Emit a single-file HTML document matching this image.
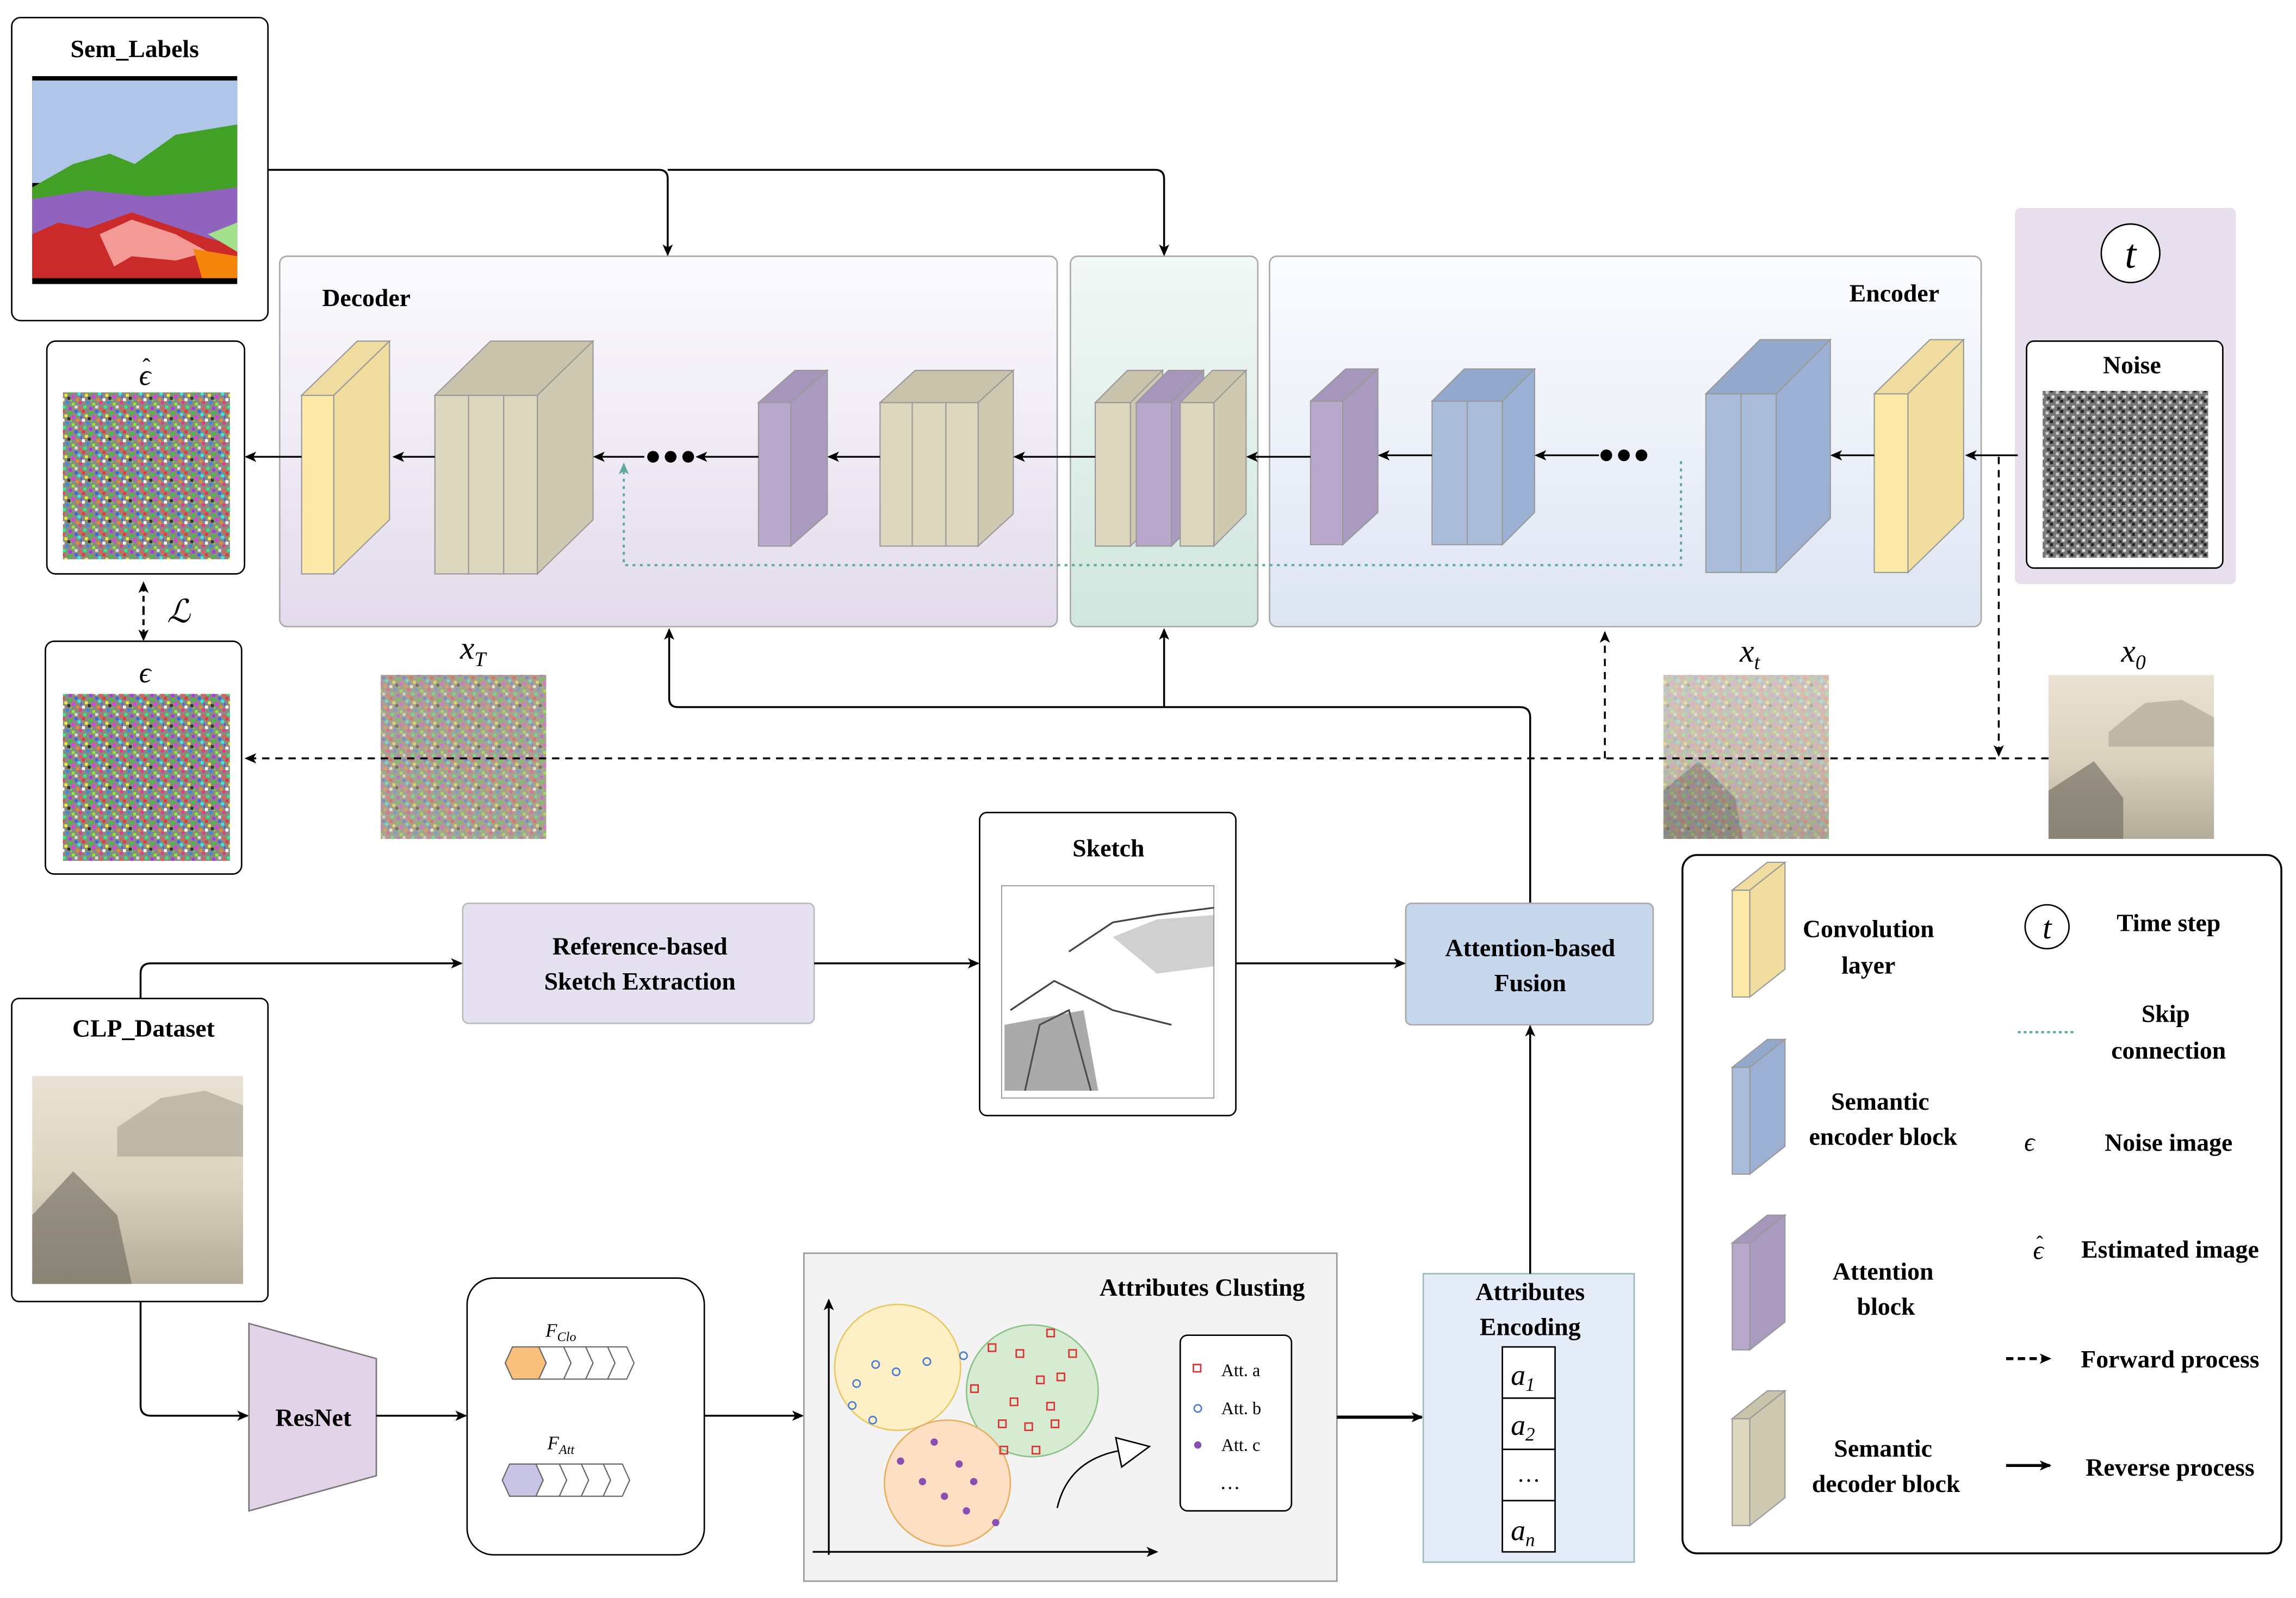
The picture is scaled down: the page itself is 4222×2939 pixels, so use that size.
<!DOCTYPE html>
<html><head><meta charset="utf-8"><style>
html,body{margin:0;padding:0;background:#fff;}
svg{display:block;}
text{font-family:"Liberation Serif",serif;font-weight:bold;fill:#000;}
.it{font-style:italic;font-weight:normal;}
</style></head><body>
<svg width="4222" height="2939" viewBox="0 0 1568 1091.5" xmlns="http://www.w3.org/2000/svg">
<defs>
<marker id="ah" markerWidth="8" markerHeight="8" refX="7" refY="4" orient="auto" markerUnits="userSpaceOnUse"><path d="M0,0.5 L8,4 L0,7.5 L2,4 z" fill="#000"/></marker>
<marker id="aht" markerWidth="8" markerHeight="8" refX="7" refY="4" orient="auto" markerUnits="userSpaceOnUse"><path d="M0,0.5 L8,4 L0,7.5 L2,4 z" fill="#5fa9a0"/></marker>
<pattern id="noise" width="14" height="14" patternUnits="userSpaceOnUse">
<rect width="14" height="14" fill="#8a8a80"/>
<rect x="0" y="0" width="2" height="2" fill="#e33"/><rect x="5" y="1" width="2" height="2" fill="#3c3"/><rect x="9" y="0" width="2" height="2" fill="#36e"/>
<rect x="2" y="3" width="2" height="2" fill="#ee3"/><rect x="7" y="4" width="2" height="2" fill="#e3e"/><rect x="11" y="2" width="2" height="2" fill="#3ee"/>
<rect x="0" y="6" width="2" height="2" fill="#fff"/><rect x="4" y="5" width="2" height="2" fill="#333"/><rect x="10" y="6" width="2" height="2" fill="#e83"/>
<rect x="3" y="8" width="2" height="2" fill="#38e"/><rect x="7" y="9" width="2" height="2" fill="#8e3"/><rect x="12" y="8" width="2" height="2" fill="#e38"/>
<rect x="1" y="11" width="2" height="2" fill="#3e8"/><rect x="5" y="12" width="2" height="2" fill="#a3e"/><rect x="9" y="11" width="2" height="2" fill="#ddd"/>
<rect x="12" y="12" width="2" height="2" fill="#e55"/><rect x="6" y="7" width="1" height="1" fill="#5e5"/><rect x="13" y="4" width="1" height="2" fill="#55e"/>
</pattern>
<pattern id="gnoise" width="7" height="7" patternUnits="userSpaceOnUse">
<rect width="7" height="7" fill="#777"/><rect x="0" y="0" width="2" height="2" fill="#222"/><rect x="4" y="1" width="2" height="2" fill="#ccc"/><rect x="1" y="4" width="2" height="2" fill="#ddd"/><rect x="5" y="5" width="2" height="2" fill="#333"/>
</pattern>
<linearGradient id="gdec" x1="0" y1="0" x2="0" y2="1"><stop offset="0" stop-color="#fbfbfd"/><stop offset="1" stop-color="#e3dbec"/></linearGradient>
<linearGradient id="gmid" x1="0" y1="0" x2="0" y2="1"><stop offset="0" stop-color="#f2f8f6"/><stop offset="1" stop-color="#cfe6dd"/></linearGradient>
<linearGradient id="genc" x1="0" y1="0" x2="0" y2="1"><stop offset="0" stop-color="#fbfcfe"/><stop offset="1" stop-color="#dde5f3"/></linearGradient>
<linearGradient id="gpaint" x1="0" y1="0" x2="0" y2="1"><stop offset="0" stop-color="#e9e1d3"/><stop offset="0.5" stop-color="#ddd3c0"/><stop offset="1" stop-color="#b4ab98"/></linearGradient>
</defs>

<rect x="8" y="12" width="175" height="207" rx="6" fill="#fff" stroke="#000" stroke-width="1"/>
<text x="92" y="39" font-size="17" text-anchor="middle">Sem_Labels</text>
<rect x="22" y="52" width="140" height="142" fill="#000"/>
<rect x="22" y="55" width="140" height="70" fill="#b0c6e8"/>
<path d="M22,128 L50,112 L75,105 L92,112 L120,92 L162,85 L162,138 L22,140 z" fill="#43a027"/>
<path d="M22,136 L60,130 L100,134 L130,132 L162,128 L162,170 L22,175 z" fill="#9064be"/>
<path d="M22,160 L40,152 L60,156 L90,145 L110,152 L140,162 L162,168 L162,190 L22,190 z" fill="#cb2a2a"/>
<path d="M68,160 L90,150 L120,160 L142,172 L120,178 L90,175 L78,182 z" fill="#f39a96"/>
<path d="M132,170 L162,175 L162,190 L138,190 z" fill="#f3860a"/>
<path d="M142,160 L162,152 L162,172 z" fill="#a2e08b"/>

<rect x="32" y="233" width="135" height="159" rx="6" fill="#fff" stroke="#000"/>
<text x="99" y="263" font-size="20" text-anchor="middle" class="it">ϵ</text>
<text x="100" y="256" font-size="16" text-anchor="middle" style="font-weight:normal">ˆ</text>
<rect x="43" y="268" width="114" height="114" fill="url(#noise)"/>
<line x1="98" y1="418" x2="98" y2="398" stroke="#000" stroke-width="1.5" stroke-dasharray="4,3" marker-end="url(#ah)"/>
<line x1="98" y1="416" x2="98" y2="437" stroke="#000" stroke-width="1.5" stroke-dasharray="4,3" marker-end="url(#ah)"/>
<text x="122" y="425" font-size="22" text-anchor="middle" class="it" style="font-family:'DejaVu Serif',serif">ℒ</text>
<rect x="31" y="438" width="134" height="159" rx="6" fill="#fff" stroke="#000"/>
<text x="99" y="466" font-size="20" text-anchor="middle" class="it">ϵ</text>
<rect x="43" y="474" width="114" height="114" fill="url(#noise)"/>

<rect x="191" y="175" width="531" height="253" rx="5" fill="url(#gdec)" stroke="#aaa"/>
<text x="220" y="209" font-size="17">Decoder</text>
<rect x="731" y="175" width="128" height="253" rx="5" fill="url(#gmid)" stroke="#aaa"/>
<rect x="867" y="175" width="486" height="253" rx="5" fill="url(#genc)" stroke="#aaa"/>
<text x="1263" y="206" font-size="17">Encoder</text>
<rect x="1376" y="142" width="151" height="257" rx="4" fill="#e7deee"/>
<circle cx="1455" cy="173" r="20" fill="#fff" stroke="#000"/>
<text x="1455" y="183" font-size="28" text-anchor="middle" class="it">t</text>
<rect x="1384" y="233" width="134" height="155" rx="5" fill="#fff" stroke="#000"/>
<text x="1456" y="255" font-size="17" text-anchor="middle">Noise</text>
<rect x="1395" y="267" width="113" height="114" fill="url(#gnoise)"/>

<g stroke="#999" stroke-width="0.8">
<rect x="206" y="270" width="22" height="122" fill="#fde9a8"/>
<path d="M206,270 L244,233 L266,233 L228,270z" fill="#f0dca0"/>
<path d="M228,270 L266,233 L266,355 L228,392z" fill="#f1dda0"/>
<rect x="297" y="270" width="23" height="122" fill="#dcd7be"/><rect x="320" y="270" width="24" height="122" fill="#dcd7be"/><rect x="344" y="270" width="23" height="122" fill="#dcd7be"/>
<path d="M297,270 L335,233 L405,233 L367,270z" fill="#c8c3aa"/>
<path d="M367,270 L405,233 L405,355 L367,392z" fill="#cfc9b2"/>
<rect x="518" y="275" width="22" height="98" fill="#b8a8cb"/>
<path d="M518,275 L543,253 L565,253 L540,275z" fill="#a696bb"/>
<path d="M540,275 L565,253 L565,351 L540,373z" fill="#aa9abf"/>
<rect x="601" y="275" width="22" height="98" fill="#dcd7be"/><rect x="623" y="275" width="23" height="98" fill="#dcd7be"/><rect x="646" y="275" width="22" height="98" fill="#dcd7be"/>
<path d="M601,275 L625,253 L692,253 L668,275z" fill="#c8c3aa"/>
<path d="M668,275 L692,253 L692,351 L668,373z" fill="#cfc9b2"/>
<path d="M748,275 L770,253 L794,253 L772,275z" fill="#c8c3aa"/><path d="M772,275 L794,253 L794,351 L772,373z" fill="#cfc9b2"/><rect x="748" y="275" width="24" height="98" fill="#dcd7be"/>
<path d="M776,275 L798,253 L822,253 L800,275z" fill="#a696bb"/><path d="M800,275 L822,253 L822,351 L800,373z" fill="#aa9abf"/><rect x="776" y="275" width="24" height="98" fill="#b8a8cb"/>
<path d="M806,275 L828,253 L851,253 L829,275z" fill="#c8c3aa"/><path d="M829,275 L851,253 L851,351 L829,373z" fill="#cfc9b2"/><rect x="806" y="275" width="23" height="98" fill="#dcd7be"/>
<rect x="895" y="274" width="22" height="98" fill="#b8a8cb"/>
<path d="M895,274 L919,252 L941,252 L917,274z" fill="#a696bb"/>
<path d="M917,274 L941,252 L941,350 L917,372z" fill="#aa9abf"/>
<rect x="978" y="274" width="24" height="98" fill="#a9bddb"/><rect x="1002" y="274" width="24" height="98" fill="#a9bddb"/>
<path d="M978,274 L1000,252 L1048,252 L1026,274z" fill="#93a9cc"/>
<path d="M1026,274 L1048,252 L1048,350 L1026,372z" fill="#9bb0d2"/>
<rect x="1165" y="269" width="24" height="122" fill="#a9bddb"/><rect x="1189" y="269" width="24" height="122" fill="#a9bddb"/>
<path d="M1165,269 L1202,232 L1250,232 L1213,269z" fill="#93a9cc"/>
<path d="M1213,269 L1250,232 L1250,354 L1213,391z" fill="#9bb0d2"/>
<rect x="1280" y="269" width="23" height="122" fill="#fde9a8"/>
<path d="M1280,269 L1318,232 L1341,232 L1303,269z" fill="#f0dca0"/>
<path d="M1303,269 L1341,232 L1341,354 L1303,391z" fill="#f1dda0"/>
</g>
<circle cx="446" cy="312" r="4"/><circle cx="458" cy="312" r="4"/><circle cx="470" cy="312" r="4"/>
<circle cx="1097" cy="311" r="4"/><circle cx="1109" cy="311" r="4"/><circle cx="1121" cy="311" r="4"/>
<g stroke="#000" stroke-width="1.2" fill="none" marker-end="url(#ah)">
<line x1="1378" y1="311" x2="1343" y2="311"/>
<line x1="1280" y1="311" x2="1251" y2="311"/>
<line x1="1092" y1="311" x2="1049" y2="311"/>
<line x1="978" y1="311" x2="942" y2="311"/>
<line x1="895" y1="312" x2="852" y2="312"/>
<line x1="748" y1="312" x2="693" y2="312"/>
<line x1="601" y1="312" x2="566" y2="312"/>
<line x1="518" y1="312" x2="476" y2="312"/>
<line x1="440" y1="312" x2="406" y2="312"/>
<line x1="297" y1="312" x2="269" y2="312"/>
<line x1="206" y1="312" x2="168" y2="312"/>
</g>
<path d="M1148,315 L1148,386 L426,386 L426,317" fill="none" stroke="#5fa9a0" stroke-width="1.5" stroke-dasharray="2,3" marker-end="url(#aht)"/>
<path d="M183,116 L450,116 Q456,116 456,122 L456,174" fill="none" stroke="#000" stroke-width="1.3" marker-end="url(#ah)"/>
<path d="M456,116 L789,116 Q795,116 795,122 L795,174" fill="none" stroke="#000" stroke-width="1.3" marker-end="url(#ah)"/>
<path d="M1045,617 L1045,490 Q1045,483 1038,483 L463,483 Q457,483 457,477 L457,430" fill="none" stroke="#000" stroke-width="1.3" marker-end="url(#ah)"/>
<path d="M795,483 L795,430" fill="none" stroke="#000" stroke-width="1.3" marker-end="url(#ah)"/>
<text x="323" y="450" font-size="22" text-anchor="middle" class="it">x<tspan font-size="14" dy="5">T</tspan></text>
<rect x="260" y="461" width="113" height="112" fill="#c9bca3"/>
<rect x="260" y="461" width="113" height="112" fill="url(#noise)" opacity="0.55"/>
<text x="1195" y="452" font-size="22" text-anchor="middle" class="it">x<tspan font-size="14" dy="5">t</tspan></text>
<rect x="1136" y="461" width="113" height="112" fill="url(#gpaint)"/>
<path d="M1136,540 L1160,520 L1185,545 L1190,573 L1136,573z" fill="#6c685c" opacity="0.5"/>
<rect x="1136" y="461" width="113" height="112" fill="url(#noise)" opacity="0.3"/>
<text x="1457" y="452" font-size="22" text-anchor="middle" class="it">x<tspan font-size="14" dy="5">0</tspan></text>
<rect x="1399" y="461" width="113" height="112" fill="url(#gpaint)"/>
<path d="M1440,500 L1465,480 L1490,478 L1512,490 L1512,510 L1440,510z" fill="#a9a293" opacity="0.6"/>
<path d="M1399,540 L1430,520 L1450,545 L1450,573 L1399,573z" fill="#6c685c" opacity="0.6"/>
<line x1="1399" y1="518" x2="168" y2="518" stroke="#000" stroke-width="1.3" stroke-dasharray="5,4" marker-end="url(#ah)"/>
<line x1="1096" y1="518" x2="1096" y2="432" stroke="#000" stroke-width="1.3" stroke-dasharray="5,4" marker-end="url(#ah)"/>
<line x1="1365" y1="312" x2="1365" y2="516" stroke="#000" stroke-width="1.3" stroke-dasharray="5,4" marker-end="url(#ah)"/>

<rect x="669" y="555" width="175" height="207" rx="5" fill="#fff" stroke="#000"/>
<text x="757" y="585" font-size="17" text-anchor="middle">Sketch</text>
<rect x="684" y="605" width="145" height="145" fill="#fff" stroke="#888" stroke-width="0.6"/>
<path d="M730,650 L760,630 L790,625 L829,620 M690,690 L720,670 L760,690 L800,700 M700,745 L710,700 L730,690 L745,745" stroke="#444" fill="none" stroke-width="1.2"/>
<path d="M686,700 L740,690 L750,745 L686,745z" fill="#555" opacity="0.5"/>
<path d="M760,640 L790,628 L829,625 L829,660 L790,665z" fill="#777" opacity="0.35"/>
<rect x="316" y="617" width="240" height="82" rx="4" fill="#e6e1f0" stroke="#bbb"/>
<text x="437" y="652" font-size="17" text-anchor="middle">Reference-based</text>
<text x="437" y="676" font-size="17" text-anchor="middle">Sketch Extraction</text>
<rect x="960" y="617" width="169" height="83" rx="4" fill="#c6d6eb" stroke="#aaa"/>
<text x="1045" y="653" font-size="17" text-anchor="middle">Attention-based</text>
<text x="1045" y="677" font-size="17" text-anchor="middle">Fusion</text>
<line x1="556" y1="658" x2="668" y2="658" stroke="#000" stroke-width="1.3" marker-end="url(#ah)"/>
<line x1="844" y1="658" x2="959" y2="658" stroke="#000" stroke-width="1.3" marker-end="url(#ah)"/>
<path d="M96,682 L96,665 Q96,658 103,658 L315,658" fill="none" stroke="#000" stroke-width="1.3" marker-end="url(#ah)"/>

<rect x="8" y="682" width="175" height="207" rx="5" fill="#fff" stroke="#000"/>
<text x="98" y="708" font-size="17" text-anchor="middle">CLP_Dataset</text>
<rect x="22" y="735" width="144" height="142" fill="url(#gpaint)"/>
<path d="M80,770 L110,750 L140,745 L166,755 L166,790 L80,790z" fill="#a9a293" opacity="0.6"/>
<path d="M22,830 L50,800 L80,830 L90,877 L22,877z" fill="#6c685c" opacity="0.6"/>
<path d="M96,889 L96,960 Q96,967 103,967 L169,967" fill="none" stroke="#000" stroke-width="1.3" marker-end="url(#ah)"/>
<path d="M170,904 L257,928 L257,1008 L170,1032z" fill="#e2d3e9" stroke="#777"/>
<text x="214" y="974" font-size="17" text-anchor="middle">ResNet</text>
<line x1="257" y1="967" x2="318" y2="967" stroke="#000" stroke-width="1.3" marker-end="url(#ah)"/>
<rect x="319" y="873" width="162" height="189" rx="18" fill="#fff" stroke="#000"/>
<text x="383" y="913" font-size="13" text-anchor="middle" class="it">F<tspan font-size="9" dy="3">Clo</tspan></text>
<g stroke="#666" stroke-width="0.8" fill="#fff">
<path d="M345,931 L350,920 L368,920 L373,931 L368,942 L350,942z" fill="#f9c07b"/>
<path d="M368,920 L385,920 L390,931 L385,942 L368,942 L373,931z"/>
<path d="M385,920 L400,920 L405,931 L400,942 L385,942 L390,931z"/>
<path d="M400,920 L415,920 L420,931 L415,942 L400,942 L405,931z"/>
<path d="M415,920 L428,920 L433,931 L428,942 L415,942 L420,931z"/>
<path d="M343,1011 L348,1000 L366,1000 L371,1011 L366,1022 L348,1022z" fill="#c8c4e6"/>
<path d="M366,1000 L382,1000 L387,1011 L382,1022 L366,1022 L371,1011z"/>
<path d="M382,1000 L397,1000 L402,1011 L397,1022 L382,1022 L387,1011z"/>
<path d="M397,1000 L412,1000 L417,1011 L412,1022 L397,1022 L402,1011z"/>
<path d="M412,1000 L425,1000 L430,1011 L425,1022 L412,1022 L417,1011z"/>
</g>
<text x="383" y="990" font-size="13" text-anchor="middle" class="it">F<tspan font-size="9" dy="3">Att</tspan></text>
<line x1="481" y1="967" x2="548" y2="967" stroke="#000" stroke-width="1.3" marker-end="url(#ah)"/>
<rect x="549" y="856" width="364" height="224" fill="#f3f3f3" stroke="#999"/>
<text x="821" y="885" font-size="17" text-anchor="middle">Attributes Clusting</text>
<line x1="566" y1="1062" x2="566" y2="888" stroke="#000" stroke-width="1.2" marker-end="url(#ah)"/>
<line x1="555" y1="1060" x2="790" y2="1060" stroke="#000" stroke-width="1.2" marker-end="url(#ah)"/>
<circle cx="613" cy="934" r="43" fill="#fdf0c6" stroke="#e8c964"/>
<circle cx="705" cy="950" r="45" fill="#d7ebd3" stroke="#8cc386"/>
<circle cx="647" cy="1013" r="43" fill="#fde0c4" stroke="#e8b060"/>
<g fill="none" stroke="#4a7bd6" stroke-width="1"><circle cx="585" cy="945" r="2.5"/><circle cx="598" cy="932" r="2.5"/><circle cx="612" cy="937" r="2.5"/><circle cx="633" cy="930" r="2.5"/><circle cx="582" cy="960" r="2.5"/><circle cx="596" cy="970" r="2.5"/><circle cx="658" cy="926" r="2.5"/></g>
<g fill="none" stroke="#d33" stroke-width="1"><rect x="694" y="922" width="5" height="5"/><rect x="715" y="908" width="5" height="5"/><rect x="730" y="922" width="5" height="5"/><rect x="708" y="940" width="5" height="5"/><rect x="722" y="938" width="5" height="5"/><rect x="663" y="946" width="5" height="5"/><rect x="690" y="955" width="5" height="5"/><rect x="715" y="958" width="5" height="5"/><rect x="682" y="970" width="5" height="5"/><rect x="700" y="972" width="5" height="5"/><rect x="718" y="970" width="5" height="5"/><rect x="705" y="988" width="5" height="5"/><rect x="683" y="988" width="5" height="5"/><rect x="675" y="918" width="5" height="5"/></g>
<g fill="#8a4fb0"><circle cx="615" cy="998" r="2.5"/><circle cx="638" cy="985" r="2.5"/><circle cx="655" cy="1000" r="2.5"/><circle cx="665" cy="1012" r="2.5"/><circle cx="645" cy="1022" r="2.5"/><circle cx="660" cy="1032" r="2.5"/><circle cx="680" cy="1040" r="2.5"/><circle cx="630" cy="1012" r="2.5"/></g>
<path d="M722,1030 Q730,995 770,990" fill="none" stroke="#000" stroke-width="1"/>
<path d="M762,982 L785,988 L766,1002z" fill="#fff" stroke="#000"/>
<rect x="806" y="912" width="76" height="120" rx="5" fill="#fff" stroke="#000"/>
<rect x="815" y="932" width="5" height="5" fill="none" stroke="#d33"/>
<text x="834" y="940" font-size="12" style="font-weight:normal">Att. a</text>
<circle cx="818" cy="962" r="2.5" fill="none" stroke="#4a7bd6"/>
<text x="834" y="966" font-size="12" style="font-weight:normal">Att. b</text>
<circle cx="818" cy="987" r="2.5" fill="#8a4fb0"/>
<text x="834" y="991" font-size="12" style="font-weight:normal">Att. c</text>
<text x="840" y="1017" font-size="14" text-anchor="middle" style="font-weight:normal">…</text>
<line x1="913" y1="968" x2="971" y2="968" stroke="#000" stroke-width="2.2" marker-end="url(#ah)"/>
<rect x="972" y="870" width="144" height="197" fill="#e4ecf8" stroke="#9bb"/>
<text x="1045" y="888" font-size="17" text-anchor="middle">Attributes</text>
<text x="1045" y="912" font-size="17" text-anchor="middle">Encoding</text>
<g fill="#fff" stroke="#000"><rect x="1026" y="920" width="36" height="35"/><rect x="1026" y="955" width="36" height="35"/><rect x="1026" y="990" width="36" height="35"/><rect x="1026" y="1025" width="36" height="35"/></g>
<text x="1040" y="946" font-size="20" text-anchor="middle" class="it">a<tspan font-size="13" dy="4">1</tspan></text>
<text x="1040" y="980" font-size="20" text-anchor="middle" class="it">a<tspan font-size="13" dy="4">2</tspan></text>
<text x="1044" y="1012" font-size="16" text-anchor="middle" style="font-weight:normal">…</text>
<text x="1040" y="1052" font-size="20" text-anchor="middle" class="it">a<tspan font-size="13" dy="4">n</tspan></text>
<line x1="1045" y1="870" x2="1045" y2="701" stroke="#000" stroke-width="1.3" marker-end="url(#ah)"/>

<rect x="1149" y="584" width="409" height="477" rx="10" fill="#fff" stroke="#000" stroke-width="1.3"/>
<g stroke="#999" stroke-width="0.8">
<rect x="1183" y="608" width="12" height="73" fill="#fde9a8"/><path d="M1183,608 L1207,589 L1219,589 L1195,608z" fill="#f0dca0"/><path d="M1195,608 L1219,589 L1219,662 L1195,681z" fill="#f1dda0"/>
<rect x="1183" y="729" width="12" height="73" fill="#a9bddb"/><path d="M1183,729 L1207,710 L1219,710 L1195,729z" fill="#93a9cc"/><path d="M1195,729 L1219,710 L1219,783 L1195,802z" fill="#9bb0d2"/>
<rect x="1183" y="849" width="12" height="73" fill="#b8a8cb"/><path d="M1183,849 L1207,830 L1219,830 L1195,849z" fill="#a696bb"/><path d="M1195,849 L1219,830 L1219,903 L1195,922z" fill="#aa9abf"/>
<rect x="1183" y="969" width="12" height="73" fill="#dcd7be"/><path d="M1183,969 L1207,950 L1219,950 L1195,969z" fill="#c8c3aa"/><path d="M1195,969 L1219,950 L1219,1023 L1195,1042z" fill="#cfc9b2"/>
</g>
<g font-size="17" text-anchor="middle">
<text x="1276" y="640">Convolution</text><text x="1276" y="665">layer</text>
<text x="1284" y="758">Semantic</text><text x="1286" y="782">encoder block</text>
<text x="1286" y="874">Attention</text><text x="1288" y="898">block</text>
<text x="1286" y="995">Semantic</text><text x="1288" y="1019">decoder block</text>
<text x="1481" y="636">Time step</text>
<text x="1479" y="698">Skip</text><text x="1481" y="723">connection</text>
<text x="1481" y="786">Noise image</text>
<text x="1482" y="859">Estimated image</text>
<text x="1482" y="934">Forward process</text>
<text x="1482" y="1008">Reverse  process</text>
</g>
<circle cx="1398" cy="633" r="15" fill="#fff" stroke="#000"/>
<text x="1398" y="641" font-size="22" text-anchor="middle" class="it">t</text>
<line x1="1378" y1="705" x2="1417" y2="705" stroke="#5fa9a0" stroke-width="1.5" stroke-dasharray="2,2"/>
<text x="1386" y="786" font-size="18" text-anchor="middle" class="it">ϵ</text>
<text x="1392" y="860" font-size="18" text-anchor="middle" class="it">ϵ</text>
<text x="1393" y="854" font-size="14" text-anchor="middle" style="font-weight:normal">ˆ</text>
<line x1="1370" y1="928" x2="1400" y2="928" stroke="#000" stroke-width="2" stroke-dasharray="5,3" marker-end="url(#ah)"/>
<line x1="1370" y1="1001" x2="1400" y2="1001" stroke="#000" stroke-width="2" marker-end="url(#ah)"/>
</svg>
</body></html>
